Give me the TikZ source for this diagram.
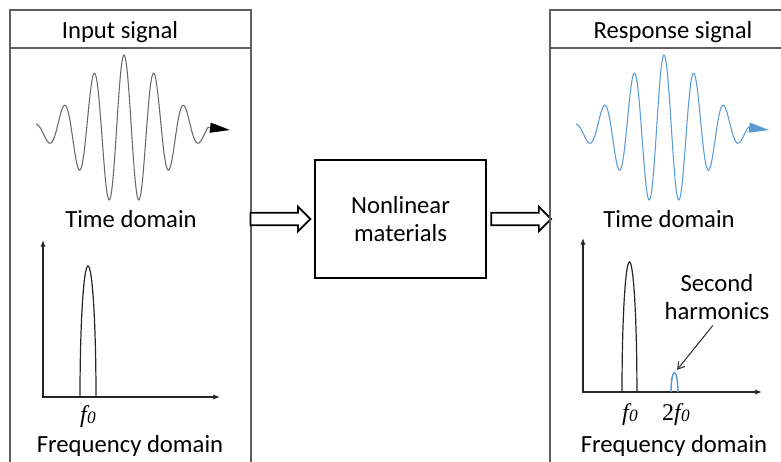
\documentclass[tikz,border=0pt]{standalone}
\usepackage{fontspec}
\setmainfont{Carlito}
\newfontfamily\tnr{Liberation Serif}
\usepackage{tikz}
\usetikzlibrary{arrows.meta,positioning,shapes.arrows}

\definecolor{framegray}{RGB}{95,95,95}
\definecolor{wavegray}{RGB}{105,105,105}
\definecolor{waveblue}{RGB}{91,155,213}

% frequency symbol, italic f with small 0
\newcommand{\fsym}{{\tnr\itshape\fontsize{18}{18}\selectfont f\kern0.3pt\raisebox{-1pt}{\fontsize{13}{13}\selectfont 0}}}

\begin{document}
\begin{tikzpicture}[
  x=0.75pt, y=-0.75pt,
  declare function={burst(\t)=75*exp(-(\t)*(\t)/3200)*cos(12*(\t));},
  every node/.style={inner sep=0pt},
  lbl/.style={font=\fontsize{18.5}{21.5}\selectfont, align=center},
  panel/.style={draw=framegray, line width=0.9pt},
  signal/.style={line width=0.8pt},
  axisline/.style={draw=black!85, line width=1.1pt, {Latex[length=5pt,width=4pt]}-{Latex[length=5pt,width=4pt]}},
  peak/.style={draw=black!85, line width=0.9pt},
  material/.style={draw, line width=2pt, minimum width=128.25pt, minimum height=88.5pt},
  flow/.style={single arrow, draw, line width=1.3pt, fill=white, inner ysep=4.1pt, inner xsep=0pt,
    single arrow head extend=4.5pt, minimum height=45pt},
  pointer/.style={draw=black!80, line width=0.8pt, -{Straight Barb[length=5pt,width=6pt]}}
]
\useasboundingbox (0,0) rectangle (781,461);

% input panel
\draw[panel] (10,470) |- (251,10) -- (251,470);
\draw[panel] (10,48) -- (251,48);
\node[lbl, anchor=base] (intitle) at (120,38) {Input signal};
\draw[signal, draw=wavegray, -{Triangle[length=15pt,width=7.5pt,black]}]
  plot[domain=-88:84, samples=240, smooth] ({124+\x}, {130-burst(\x)}) -- (230,130);
\node[lbl, anchor=base] (intime) at (131,227) {Time domain};

\coordinate (lytop) at (43,240);
\coordinate (lxend) at (220,397);
\draw[axisline] (lytop) |- (lxend);
\draw[peak] (80,397) arc[start angle=180, end angle=0, x radius=6pt, y radius=98.25pt];
\node[anchor=base] (lf) at (88,422) {\fsym};
\node[lbl, anchor=base] (infreq) at (130,452) {Frequency domain};

% nonlinear material block
\node[material, lbl] (mat) at (400.5,219) {Nonlinear\\materials};
\node[flow, left=1.5pt of mat] (inflow) {};
\node[flow, right=2.25pt of mat] (outflow) {};

% response panel
\draw[panel] (550,470) |- (791,10) -- (791,470);
\draw[panel] (550,48) -- (791,48);
\node[lbl, anchor=base] (outtitle) at (673,38) {Response signal};
\draw[signal, draw=waveblue, -{Triangle[length=15pt,width=7.5pt,waveblue]}]
  plot[domain=-88:84, samples=240, smooth] ({664+\x}, {130-burst(\x)}) -- (769,130);
\node[lbl, anchor=base] (outtime) at (669,227) {Time domain};

\coordinate (rytop) at (583,238);
\coordinate (rxend) at (762,392);
\draw[axisline] (rytop) |- (rxend);
\draw[peak] (622,392) arc[start angle=180, end angle=0, x radius=5.6pt, y radius=97.5pt];
\draw[peak, draw=waveblue, line width=1.1pt] (671,392) arc[start angle=180, end angle=0, x radius=2.6pt, y radius=14.6pt];
\coordinate (shtop) at (674.5,373);
\node[anchor=base] (rf) at (630,420) {\fsym};
\node[anchor=base] (rf2) at (676,420) {{\tnr\fontsize{18}{18}\selectfont 2}\fsym};
\node[lbl] (harm) at (717,297) {Second\\harmonics};
\draw[pointer, shorten <=5pt, shorten >=3pt] (harm.south) -- (shtop);
\node[lbl, anchor=base] (outfreq) at (674,452) {Frequency domain};
\end{tikzpicture}
\end{document}
